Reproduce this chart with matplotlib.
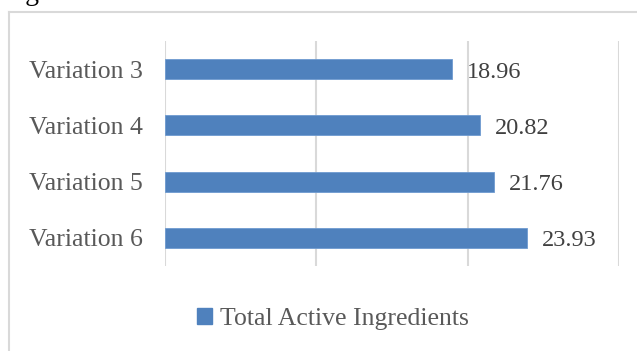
import matplotlib
matplotlib.use("Agg")
import matplotlib.pyplot as plt
from matplotlib.lines import Line2D
from matplotlib.patches import Patch

categories = ["Variation 3", "Variation 4", "Variation 5", "Variation 6"]
values = [18.96, 20.82, 21.76, 23.93]
value_labels = ["18.96", "20.82", "21.76", "23.93"]
series_name = "Total Active Ingredients"
title_fragment = "Ingredients"

plt.rcParams['font.family'] = ['Liberation Serif', 'DejaVu Serif']

W, H = 637, 351
fig = plt.figure(figsize=(W / 100, H / 100), dpi=100)
ax = fig.add_axes([165 / W, 1 - 266 / H, (619 - 165) / W, (266 - 41) / H])

bar_color = "#4f81bd"
ypos = list(range(len(categories)))
ax.barh(ypos, values, height=0.355, color=bar_color, edgecolor="#6f9bd0", linewidth=0.6, zorder=3)
ax.set_ylim(len(categories) - 0.5, -0.5)
ax.set_xlim(0, 30)
ax.set_xticks([0, 10, 20, 30])
ax.xaxis.grid(True, color="#d9d9d9", linewidth=1.5, zorder=0)
ax.tick_params(axis='x', length=0, labelbottom=False)
ax.tick_params(axis='y', length=0, pad=16, labelsize=18.5, labelcolor="#595959")
ax.set_yticks(ypos)
ax.set_yticklabels(categories)
for s in ax.spines.values():
    s.set_visible(False)

for y, v, lab in zip(ypos, values, value_labels):
    ax.annotate(lab, xy=(v, y), xytext=(15, -3), textcoords='offset pixels',
                va='center', ha='left', fontsize=17.5, color="#404040")

# chart frame (top and left edges)
fig.add_artist(Line2D([9 / W, 1.0], [1 - 12 / H, 1 - 12 / H], color="#d9d9d9", linewidth=1.5))
fig.add_artist(Line2D([9 / W, 9 / W], [0, 1 - 12 / H], color="#d9d9d9", linewidth=1.5))

# cropped title fragment at the very top
fig.text(3 / W, 1 - 0.5 / H, title_fragment, fontsize=20, color="#000000", va='baseline', ha='left')

leg = fig.legend(handles=[Patch(facecolor=bar_color, edgecolor=bar_color)], labels=[series_name],
                 loc='center', bbox_to_anchor=(333 / W, 1 - 319 / H), frameon=False,
                 fontsize=18.5, handlelength=0.6, handleheight=0.6, handletextpad=0.3,
                 labelcolor="#595959")

fig.savefig("out.png", dpi=100)
